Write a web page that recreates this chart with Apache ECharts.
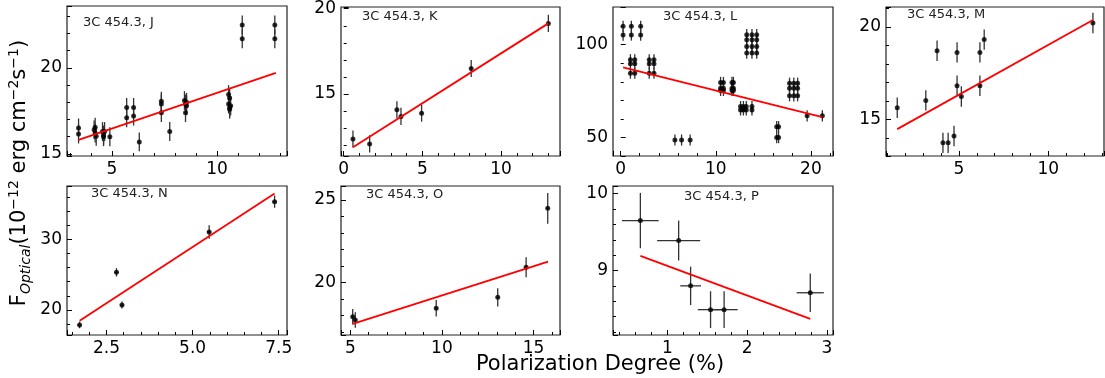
<!DOCTYPE html>
<html>
<head>
<meta charset="utf-8">
<script src="https://cdn.jsdelivr.net/npm/echarts@6/dist/echarts.min.js"></script>
<style>
  html, body { margin: 0; padding: 0; background: #fff; }
  #chart { width: 1105px; height: 378px; }
</style>
</head>
<body>
<div id="chart"></div>
<script>
// 3C 454.3 – optical flux vs polarization degree, one panel per period

// panel J
var jX = [3.41, 3.41, 4.15, 4.2, 4.2, 4.25, 4.55, 4.6, 4.6, 4.65, 4.9, 5.7, 5.7, 6.03, 6.03, 6.3,
          7.35, 7.35, 7.35, 7.75, 8.45, 8.5, 8.5, 8.55, 8.55, 10.55, 10.55, 10.6, 10.6, 10.6, 10.65,
          11.2, 11.2, 12.75, 12.75];
var jY = [16.51, 16.16, 16.4, 16.55, 16.22, 16.03, 16.3, 16.1, 16.0, 16.3, 16.0, 17.1, 17.7, 17.2, 17.7, 15.7,
          18.06, 17.9, 17.4, 16.3, 18.1, 17.9, 17.4, 18.0, 17.8, 18.45, 17.9, 18.25, 17.7, 17.6, 17.8,
          22.5, 21.7, 22.5, 21.7];
var jFit = [[3.41, 15.82], [12.8, 19.71]];

// panel K
var kX = [0.59, 1.65, 3.38, 3.64, 4.95, 8.1, 13.0];
var kY = [12.37, 12.08, 14.08, 13.69, 13.88, 16.5, 19.14];
var kFit = [[0.59, 11.88], [13.0, 19.14]];

// panel L
var lX = [0.25, 0.25, 1.12, 1.12, 2.1, 2.1,
          1.02, 1.02, 1.02, 1.48, 1.48, 1.48, 3.0, 3.0, 3.0, 3.5, 3.5, 3.5,
          5.7, 6.4, 7.3,
          10.5, 10.5, 10.5, 10.8, 10.8, 10.8, 11.7, 11.7, 11.7, 11.85, 11.85, 11.85,
          12.6, 12.6, 12.9, 12.9, 13.2, 13.2, 13.8, 13.8,
          13.25, 13.25, 13.25, 13.25, 13.8, 13.8, 13.8, 13.8, 14.3, 14.3, 14.3, 14.3,
          16.4, 16.4, 16.6, 16.6,
          17.75, 17.75, 17.75, 18.2, 18.2, 18.2, 18.6, 18.6, 18.6,
          19.6, 21.2];
var lY = [109.9, 105.2, 109.9, 105.2, 109.9, 105.2,
          91.9, 89.7, 84.7, 91.9, 89.7, 84.7, 91.9, 89.7, 84.7, 91.9, 89.7, 84.7,
          48.7, 48.7, 48.7,
          79.7, 76.6, 75.4, 79.7, 76.6, 75.4, 79.7, 76.6, 75.4, 79.7, 76.6, 75.4,
          66.7, 64.9, 66.7, 64.9, 66.7, 64.9, 66.7, 64.9,
          105.4, 102.7, 99.1, 95.5, 105.4, 102.7, 99.1, 95.5, 105.4, 102.7, 99.1, 95.5,
          55.9, 50.0, 55.9, 50.0,
          79.3, 76.6, 72.5, 79.3, 76.6, 72.5, 79.3, 76.6, 72.5,
          61.7, 61.7];
var lFit = [[0.25, 87.8], [21.2, 61.0]];

// panel M
var mX = [1.54, 3.14, 3.77, 4.1, 4.39, 4.72, 4.89, 4.89, 5.13, 6.17, 6.17, 6.41, 12.5];
var mY = [15.64, 16.04, 18.72, 13.75, 13.75, 14.12, 18.63, 16.83, 16.25, 18.63, 16.83, 19.32, 20.22];
var mFit = [[1.54, 14.49], [12.5, 20.38]];

// panel N
var nX = [1.72, 2.79, 2.95, 5.48, 7.38];
var nY = [17.88, 25.33, 20.71, 31.04, 35.33];
var nEy = [0.47, 0.6, 0.5, 0.95, 0.87];
var nFit = [[1.72, 18.49], [7.38, 36.5]];

// panel O
var oX = [5.13, 5.27, 9.69, 13.05, 14.6, 15.78];
var oY = [17.94, 17.74, 18.45, 19.11, 20.93, 24.5];
var oEy = [0.47, 0.47, 0.5, 0.55, 0.6, 0.93];
var oFit = [[5.13, 17.5], [15.8, 21.27]];

// panel P
var pX = [0.66, 1.14, 1.29, 1.54, 1.71, 2.79];
var pY = [9.65, 9.39, 8.8, 8.49, 8.49, 8.71];
var pEx = [0.23, 0.27, 0.13, 0.16, 0.17, 0.17];
var pEy = [0.36, 0.26, 0.25, 0.24, 0.24, 0.25];
var pFit = [[0.66, 9.19], [2.79, 8.37]];

function fill(n, v) {
    var a = [];
    for (var i = 0; i < n; i++) a.push(v);
    return a;
}

var panels = [
    { name: '3C 454.3, J', x: jX, y: jY, ex: fill(jX.length, 0.05), ey: fill(jX.length, 0.55), fit: jFit,
      xr: [2.86, 13.33, 5], yr: [14.88, 23.6, 5], box: [67, 6, 220, 150], title: [83, 23] },
    { name: '3C 454.3, K', x: kX, y: kY, ex: fill(kX.length, 0.08), ey: fill(kX.length, 0.5), fit: kFit,
      xr: [-0.17, 13.74, 5], yr: [11.37, 20.1, 5], box: [341, 7, 219, 149], title: [362, 17] },
    { name: '3C 454.3, L', x: lX, y: lY, ex: fill(lX.length, 0.1), ey: fill(lX.length, 3), fit: lFit,
      xr: [-0.81, 22.32, 10], yr: [40.1, 120.3, 50], box: [613, 7, 220, 149], title: [663, 17] },
    { name: '3C 454.3, M', x: mX, y: mY, ex: fill(mX.length, 0.05), ey: fill(mX.length, 0.55), fit: mFit,
      xr: [0.91, 13.12, 5], yr: [13.04, 21.08, 5], box: [886, 7, 218, 149], title: [907, 15] },
    { name: '3C 454.3, N', x: nX, y: nY, ex: fill(nX.length, 0.06), ey: nEy, fit: nFit,
      xr: [1.354, 7.74, 2.5], yr: [16.46, 37.55, 10], box: [67, 186, 220, 149], title: [91, 194], fixed: 1 },
    { name: '3C 454.3, O', x: oX, y: oY, ex: fill(oX.length, 0.08), ey: oEy, fit: oFit,
      xr: [4.49, 16.45, 5], yr: [16.83, 25.85, 5], box: [341, 186, 219, 149], title: [366, 195] },
    { name: '3C 454.3, P', x: pX, y: pY, ex: pEx, ey: pEy, fit: pFit,
      xr: [0.317, 3.075, 1], yr: [8.16, 10.10, 1], box: [613, 186, 220, 149], title: [684, 197] }
];

var FONT = 'DejaVu Sans';

function errRender(params, api) {
    var x = api.value(0), y = api.value(1), ex = api.value(2), ey = api.value(3);
    var c = api.coord([x, y]);
    var l = api.coord([x - ex, y]), r = api.coord([x + ex, y]);
    var t = api.coord([x, y + ey]), b = api.coord([x, y - ey]);
    var style = { stroke: '#333', lineWidth: 1.3 };
    return {
        type: 'group',
        children: [
            { type: 'line', shape: { x1: l[0], y1: c[1], x2: r[0], y2: c[1] }, style: style },
            { type: 'line', shape: { x1: c[0], y1: t[1], x2: c[0], y2: b[1] }, style: style }
        ]
    };
}

function axis(range, gi, fixed) {
    return {
        type: 'value',
        gridIndex: gi,
        min: range[0],
        max: range[1],
        minInterval: range[2],
        maxInterval: range[2],
        splitNumber: 2,
        axisLine: { show: false },
        axisTick: { show: true, inside: true, length: 5, lineStyle: { color: '#000', width: 1 } },
        minorTick: { show: true, splitNumber: 5, length: 3, lineStyle: { color: '#000', width: 1 } },
        splitLine: { show: false },
        axisLabel: {
            show: true, margin: 5, color: '#000', fontSize: 17, fontFamily: FONT,
            showMinLabel: false, showMaxLabel: false,
            formatter: function (v) { return fixed ? v.toFixed(fixed) : String(v); }
        }
    };
}

var grids = [], xAxes = [], yAxes = [], series = [], graphics = [];

panels.forEach(function (p, i) {
    grids.push({
        left: p.box[0], top: p.box[1], width: p.box[2], height: p.box[3],
        show: true, borderColor: '#222', borderWidth: 1.2, backgroundColor: 'transparent',
        containLabel: false, outerBoundsMode: 'none'
    });
    xAxes.push(axis(p.xr, i, p.fixed));
    yAxes.push(axis(p.yr, i, 0));

    var pts = [], errs = [];
    for (var k = 0; k < p.x.length; k++) {
        pts.push([p.x[k], p.y[k]]);
        errs.push([p.x[k], p.y[k], p.ex[k], p.ey[k]]);
    }
    series.push({
        type: 'custom', xAxisIndex: i, yAxisIndex: i,
        renderItem: errRender, data: errs, encode: { x: 0, y: 1 }, z: 2, silent: true
    });
    series.push({
        type: 'scatter', xAxisIndex: i, yAxisIndex: i,
        data: pts, symbolSize: 5, itemStyle: { color: '#000' }, z: 3, silent: true
    });
    series.push({
        type: 'line', xAxisIndex: i, yAxisIndex: i,
        data: p.fit, showSymbol: false, lineStyle: { color: '#ff0000', width: 1.8 }, z: 4, silent: true
    });

    graphics.push({
        type: 'text', left: p.title[0], top: p.title[1] - 7,
        style: { text: p.name, fill: '#222', font: '13px "' + FONT + '"' }
    });
});

graphics.push({
    type: 'text', x: 600, y: 365,
    style: { text: 'Polarization Degree (%)', fill: '#000', font: '21px "' + FONT + '"',
             align: 'center', verticalAlign: 'middle' }
});

graphics.push({
    type: 'text', x: 20, y: 173, rotation: Math.PI / 2,
    style: {
        text: '{n|F}{sub|Optical}{n|(10}{sup|\u221212}{n| erg cm}{sup|\u22122}{n|s}{sup|\u22121}{n|)}',
        align: 'center', verticalAlign: 'middle', fill: '#000',
        rich: {
            n: { fontSize: 21, fontFamily: FONT, lineHeight: 26, fill: '#000' },
            sup: { fontSize: 14, fontFamily: FONT, lineHeight: 14, verticalAlign: 'top', fill: '#000' },
            sub: { fontSize: 14, fontFamily: FONT, fontStyle: 'italic', lineHeight: 14, verticalAlign: 'bottom', fill: '#000' }
        }
    }
});

var chart = echarts.init(document.getElementById('chart'), null, { renderer: 'canvas' });
chart.setOption({
    animation: false,
    backgroundColor: '#fff',
    grid: grids,
    xAxis: xAxes,
    yAxis: yAxes,
    series: series,
    graphic: graphics
});
</script>
</body>
</html>
